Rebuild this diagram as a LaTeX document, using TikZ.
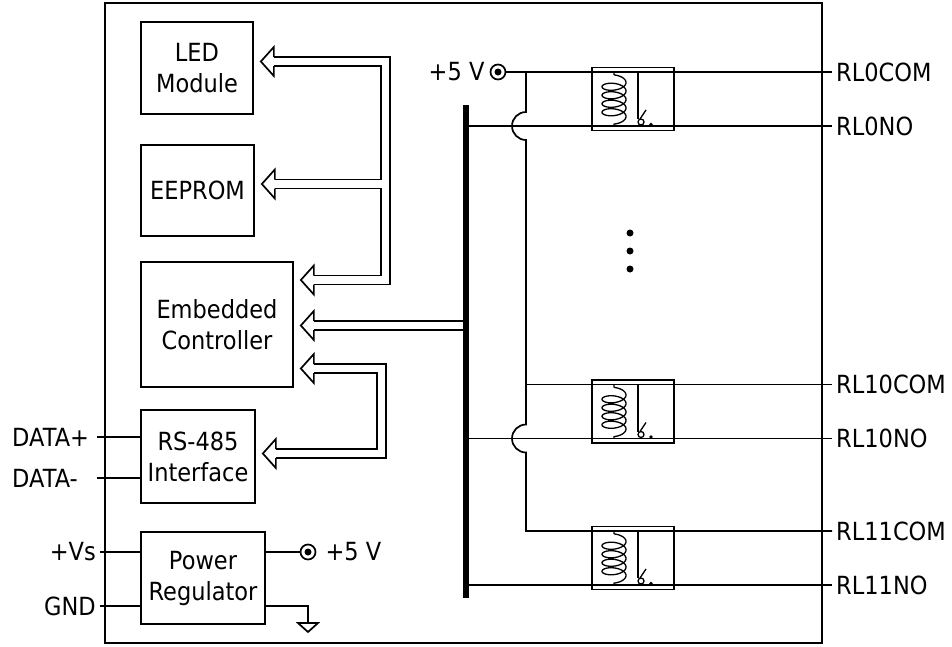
\documentclass[tikz,border=0pt]{standalone}
\usepackage{fontspec}
\setmainfont{DejaVu Sans}[FakeStretch=0.9]
\usetikzlibrary{calc}

\tikzset{
    wire/.style={line width=1.7pt},
    blk/.style={draw,line width=1.7pt,align=center,inner sep=0pt},
    pinlbl/.style={inner sep=4pt},
    term/.style={circle,draw,line width=1.7pt,minimum size=15pt,inner sep=0pt},
    relaybox/.style={draw,line width=1.7pt,minimum width=82pt,minimum height=63pt,inner sep=0pt},
    busout/.style={line width=10.7pt},
    busin/.style={line width=7.3pt,white},
    hhead/.pic={
        \draw[wire,fill=white] (13,-4.5) -- (13,-14.5) -- (0,0) -- (13,14.5) -- (13,4.5);
    },
    relayin/.pic={
        \draw[line width=1.3pt] (-19,-27) -- (-19,-24.1)
            -- plot[smooth,domain=-90:1530,samples=150,variable=\t] ({-19+12*cos(\t)},{-16.5+8.5*\t/360+5.5*sin(\t)})
            -- (-19,27);
        \draw[wire] (5,-27) -- (5,20);
        \draw[line width=1.3pt] (8,23) circle (3);
        \draw[line width=1.3pt] (7,20) -- (13,11);
        \fill (18,25.5) circle (1.8);
    }
}

\begin{document}
\begin{tikzpicture}[x=1pt,y=-1pt,font=\fontsize{25}{31}\selectfont]
                    \useasboundingbox (0,0) rectangle (952,646);
                    \draw[wire] (105,3) rectangle (822,643);

                    \node[blk,minimum width=112pt,minimum height=92pt] (led) at (197,68) {LED\\Module};
                    \node[blk,minimum width=113pt,minimum height=91pt] (eeprom) at (197.5,190.5) {EEPROM};
                    \node[blk,minimum width=152pt,minimum height=125pt] (ctrl) at (217,324.5) {Embedded\\Controller};
                    \node[blk,minimum width=114pt,minimum height=93pt] (rs) at (198,456.5) {RS-485\\Interface};
                    \node[blk,minimum width=124pt,minimum height=92pt] (pwr) at (203,578) {Power\\Regulator};
                    \node[fill,minimum width=6pt,minimum height=493pt,inner sep=0pt] (bus) at (466,351.5) {};

                    \coordinate (tled) at ($(led.east)+(7,-6.5)$);
                    \coordinate (tee) at ($(eeprom.east)+(7,-6.5)$);
                    \coordinate (tc1) at ($(ctrl.east)+(7,-44.5)$);
                    \coordinate (tc2) at ($(ctrl.east)+(7,1)$);
                    \coordinate (tc3) at ($(ctrl.east)+(7,44)$);
                    \coordinate (trs) at ($(rs.east)+(7,-3)$);
                    \coordinate (riseA) at (385.5,0);
                    \coordinate (riseB) at (381.5,0);
                    \foreach \lay in {busout,busin}{
                        \draw[\lay] ($(tc1)+(13,0)$) -- (tc1 -| riseA) -- (tled -| riseA) -- ($(tled)+(13,0)$);
                        \draw[\lay] (tee -| riseA) -- ($(tee)+(13,0)$);
                        \draw[\lay] ($(tc2)+(13,0)$) -- (tc2 -| bus.west);
                        \draw[\lay] ($(tc3)+(13,0)$) -- (tc3 -| riseB) -- (trs -| riseB) -- ($(trs)+(13,0)$);
                    }
                    \foreach \t in {tled,tee,tc1,tc2,tc3,trs}
                        \pic at (\t) {hhead};

                    \node[term] (vcc) at (498,72) {};
                    \fill (vcc.center) circle (3.5);
                    \node[anchor=east,inner sep=5pt] (vcclbl) at (vcc.west) {+5 V};

                    \node[relaybox] (k0) at (633,99) {};
                    \node[relaybox] (k10) at (633,411.5) {};
                    \node[relaybox] (k11) at (633,558) {};
                    \foreach \k in {k0,k10,k11}
                        \pic at (\k.center) {relayin};

                    \node[pinlbl,anchor=west] (c0) at (832,72) {RL0COM};
                    \node[pinlbl,anchor=west] (n0) at (832,126) {RL0NO};
                    \node[pinlbl,anchor=west] (c10) at (832,384.5) {RL10COM};
                    \node[pinlbl,anchor=west] (n10) at (832,438.5) {RL10NO};
                    \node[pinlbl,anchor=west] (c11) at (832,531) {RL11COM};
                    \node[pinlbl,anchor=west] (n11) at (832,585) {RL11NO};

                    \draw[wire] (vcc.east) -- (c0.west);
                    \foreach \n in {n0,n10,n11}
                        \draw[wire] (bus.east |- \n.west) -- (\n.west);
                    \coordinate (jn) at (526,72);
                    \draw[wire] (jn) -- ($(jn |- n0.west)+(0,-14)$) arc[start angle=270,end angle=90,radius=14]
                        -- ($(jn |- n10.west)+(0,-14)$) arc[start angle=270,end angle=90,radius=14]
                        -- (jn |- c11.west) -- (c11.west);
                    \draw[wire] (jn |- c10.west) -- (c10.west);
                    \foreach \y in {233,251,269}
                        \fill (630,\y) circle (3.5);

                    \node[pinlbl,anchor=west] (dplus) at (8,437) {DATA+};
                    \node[pinlbl,anchor=west] (dminus) at (8,478) {DATA-};
                    \coordinate (dpin) at (97,437);
                    \coordinate (dmin) at (97,478);
                    \draw[wire] (dpin) -- (dpin -| rs.west);
                    \draw[wire] (dmin) -- (dmin -| rs.west);

                    \node[pinlbl,anchor=east] (vs) at (100,552) {+Vs};
                    \node[pinlbl,anchor=east] (gnd) at (100,606) {GND};
                    \draw[wire] (vs.east) -- (vs.east -| pwr.west);
                    \draw[wire] (gnd.east) -- (gnd.east -| pwr.west);
                    \node[term] (vout) at (308,552) {};
                    \fill (vout.center) circle (3.5);
                    \node[anchor=west,inner sep=9pt] (voutlbl) at (vout.east) {+5 V};
                    \draw[wire] (pwr.east |- vout.center) -- (vout.west);
                    \coordinate (earth) at (308,623);
                    \draw[wire] (pwr.east |- gnd.east) -| (earth);
                    \draw[wire] ($(earth)+(-10,0)$) -- ($(earth)+(10,0)$) -- ($(earth)+(0,9)$) -- cycle;
                \end{tikzpicture}
\end{document}
